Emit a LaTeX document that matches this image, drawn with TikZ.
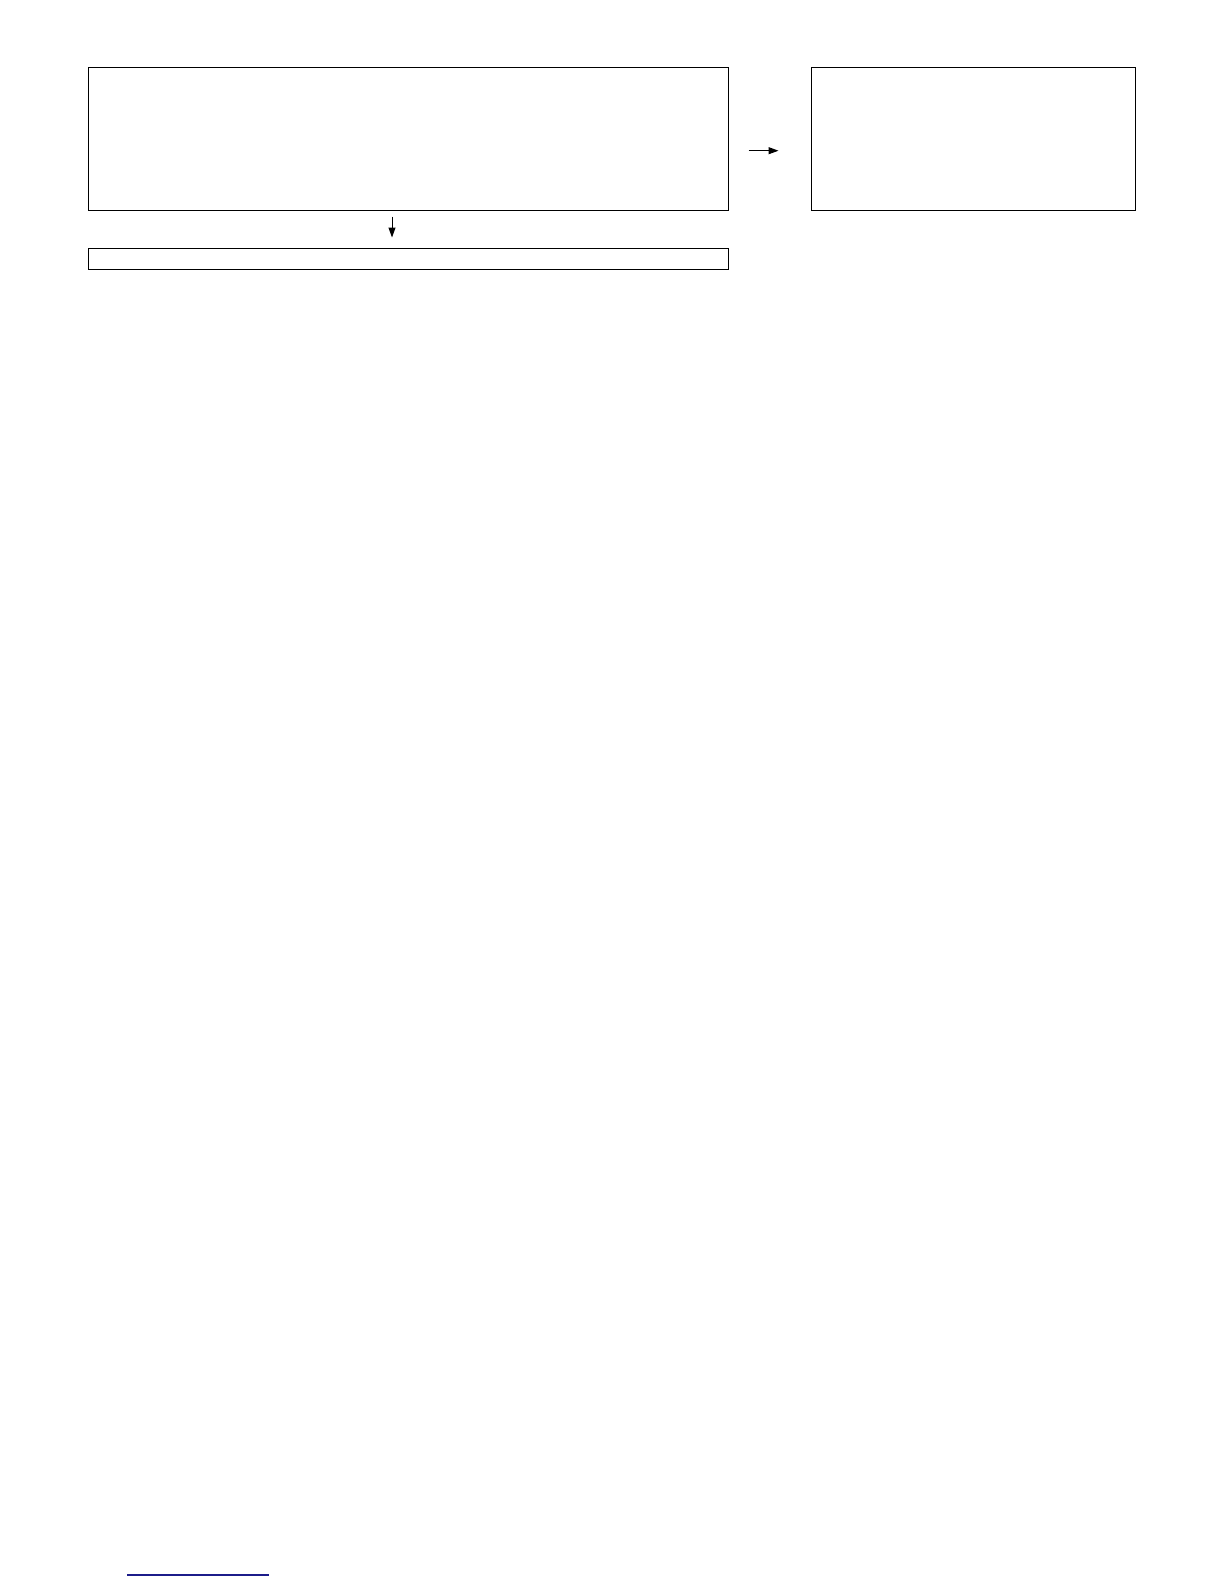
\documentclass[tikz,border=0pt]{standalone}
\usetikzlibrary{arrows.meta,positioning}
\definecolor{linkblue}{RGB}{28,28,138}
\begin{document}
\begin{tikzpicture}[x=0.5pt,y=-0.5pt,
    box/.style={draw, line width=0.5pt, minimum height=71pt},
    flow/.style={-{Triangle[length=5pt,width=3.5pt]}, line width=0.5pt}]
  \useasboundingbox (0,0) rectangle (1224,1584);
  \node[box, minimum width=320pt] (Main) at (408,139) {};
  \node[box, minimum width=162pt, right=41pt of Main] (Side) {};
  \node[draw, line width=0.5pt, minimum width=320pt, minimum height=10.5pt, below=18.5pt of Main] (Bar) {};
  \draw[flow, shorten <=3pt, shorten >=5pt] ([xshift=-8pt]Main.south) -- ([xshift=-8pt]Bar.north);
  \draw[flow, shorten <=10pt, shorten >=16pt] ([yshift=-5.85pt]Main.east) -- ([yshift=-5.85pt]Side.west);
  \draw[linkblue, line width=0.8pt] (127,1575) -- (269,1575);
\end{tikzpicture}
\end{document}
